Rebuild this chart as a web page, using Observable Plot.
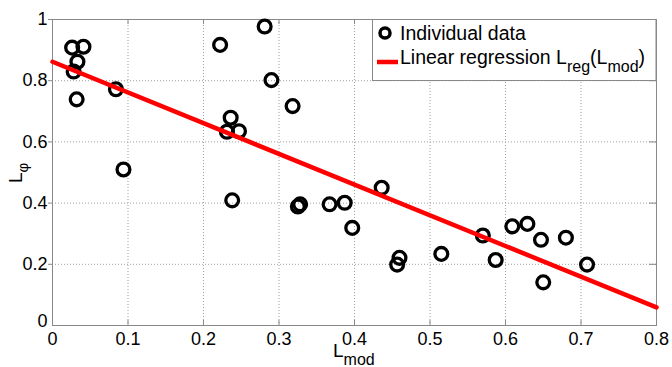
<!DOCTYPE html>
<html>
<head>
<meta charset="utf-8">
<script src="https://cdn.jsdelivr.net/npm/d3@7"></script>
<script src="https://cdn.jsdelivr.net/npm/@observablehq/plot@0.6"></script>
<style>
  html, body { margin: 0; padding: 0; background: white; }
  svg { display: block; }
</style>
</head>
<body>
<div id="chart"></div>
<script>
// Individual data (L_mod, L_phi)
const Lmod = [0.026,0.041,0.033,0.028,0.032,0.084,0.094,0.222,0.281,0.290,0.318,0.236,0.231,0.247,0.238,0.325,0.328,0.367,0.387,0.397,0.436,0.4565,0.4596,0.515,0.570,0.587,0.609,0.629,0.647,0.650,0.680,0.708];
const Lphi = [0.908,0.911,0.862,0.830,0.739,0.772,0.510,0.917,0.977,0.802,0.717,0.679,0.633,0.635,0.409,0.389,0.396,0.396,0.401,0.319,0.450,0.199,0.221,0.234,0.294,0.214,0.324,0.332,0.280,0.141,0.287,0.199];

// Linear regression line endpoints
const regX = [0, 0.8];
const regY = [0.862, 0.059];

// Ticks
const xTicks = [0,0.1,0.2,0.3,0.4,0.5,0.6,0.7,0.8];
const xTickLabels = ["0","0.1","0.2","0.3","0.4","0.5","0.6","0.7","0.8"];
const yTicks = [0,0.2,0.4,0.6,0.8,1];
const yTickLabels = ["0","0.2","0.4","0.6","0.8","1"];

const points = Lmod.map((x, i) => ({x, y: Lphi[i]}));
const reg = regX.map((x, i) => ({x, y: regY[i]}));
const xLab = new Map(xTicks.map((t, i) => [t, xTickLabels[i]]));
const yLab = new Map(yTicks.map((t, i) => [t, yTickLabels[i]]));

const FONT = "'Liberation Sans', Arial, Helvetica, sans-serif";
const W = 672, H = 367, mL = 52, mR = 16, mT = 19, mB = 42;
const frameW = W - mL - mR, frameH = H - mT - mB;

const svg = Plot.plot({
  width: W, height: H,
  marginLeft: mL, marginRight: mR, marginTop: mT, marginBottom: mB,
  style: {fontFamily: FONT, fontSize: "18px", background: "white", color: "black"},
  x: {domain: [0, 0.8]},
  y: {domain: [0, 1]},
  marks: [
    Plot.gridX(xTicks, {stroke: "#a0a0a0", strokeOpacity: 1, strokeDasharray: "1,2"}),
    Plot.gridY(yTicks, {stroke: "#a0a0a0", strokeOpacity: 1, strokeDasharray: "1,2"}),
    // inward ticks on bottom, top, right
    Plot.ruleX(xTicks, {x: d => d, stroke: "#888", insetTop: frameH - 5}),
    Plot.ruleX(xTicks, {x: d => d, stroke: "#888", insetBottom: frameH - 5}),
    Plot.ruleY(yTicks, {y: d => d, stroke: "#888", insetLeft: frameW - 7}),
    Plot.frame({stroke: "#888"}),
    Plot.dot(points, {x: "x", y: "y", r: 6.4, stroke: "black", strokeWidth: 3.3, fill: "none"}),
    Plot.line(reg, {x: "x", y: "y", stroke: "#ff0000", strokeWidth: 4.5}),
    Plot.axisX(xTicks, {tickSize: 0, tickPadding: 7, tickFormat: d => xLab.get(d), label: null, fontSize: 18}),
    Plot.axisY(yTicks.filter(d => d !== 0), {tickSize: 4, tickPadding: 1, stroke: "#888", tickFormat: d => yLab.get(d), label: null, fontSize: 18}),
    Plot.axisY([0], {tickSize: 0, tickPadding: 5, tickFormat: d => yLab.get(d), label: null, fontSize: 18, dy: -4})
  ]
});

document.getElementById("chart").appendChild(svg);

const s = d3.select(svg);

// x label: L_mod
const xl = s.append("text")
  .attr("x", 333).attr("y", 357).attr("text-anchor", "start")
  .attr("font-family", FONT).attr("font-size", 19).attr("fill", "black");
xl.append("tspan").text("L");
xl.append("tspan").attr("dy", 8).attr("font-size", 16).text("mod");

// y label: L_phi (rotated)
const yl = s.append("text")
  .attr("transform", "translate(22,183) rotate(-90)").attr("text-anchor", "start")
  .attr("font-family", FONT).attr("font-size", 19).attr("fill", "black");
yl.append("tspan").text("L");
yl.append("tspan").attr("dy", 6).attr("font-size", 15).text("φ");

// Legend
const lg = s.append("g").attr("font-family", FONT).attr("font-size", 19.5)
  .attr("fill", "black").attr("text-anchor", "start");
lg.append("rect").attr("x", 372.5).attr("y", 19.5).attr("width", 283.5).attr("height", 61)
  .attr("fill", "white").attr("stroke", "#888");
lg.append("circle").attr("cx", 385).attr("cy", 33).attr("r", 5)
  .attr("fill", "none").attr("stroke", "black").attr("stroke-width", 3.5);
lg.append("text").attr("x", 400).attr("y", 39.5).text("Individual data");
lg.append("line").attr("x1", 377).attr("x2", 398).attr("y1", 62).attr("y2", 62)
  .attr("stroke", "#ff0000").attr("stroke-width", 4.5);
const t2 = lg.append("text").attr("x", 400).attr("y", 63.5);
t2.append("tspan").text("Linear regression L");
t2.append("tspan").attr("dy", 8).attr("font-size", 16).text("reg");
t2.append("tspan").attr("dy", -8).text("(L");
t2.append("tspan").attr("dy", 8).attr("font-size", 16).text("mod");
t2.append("tspan").attr("dy", -8).text(")");
</script>
</body>
</html>
